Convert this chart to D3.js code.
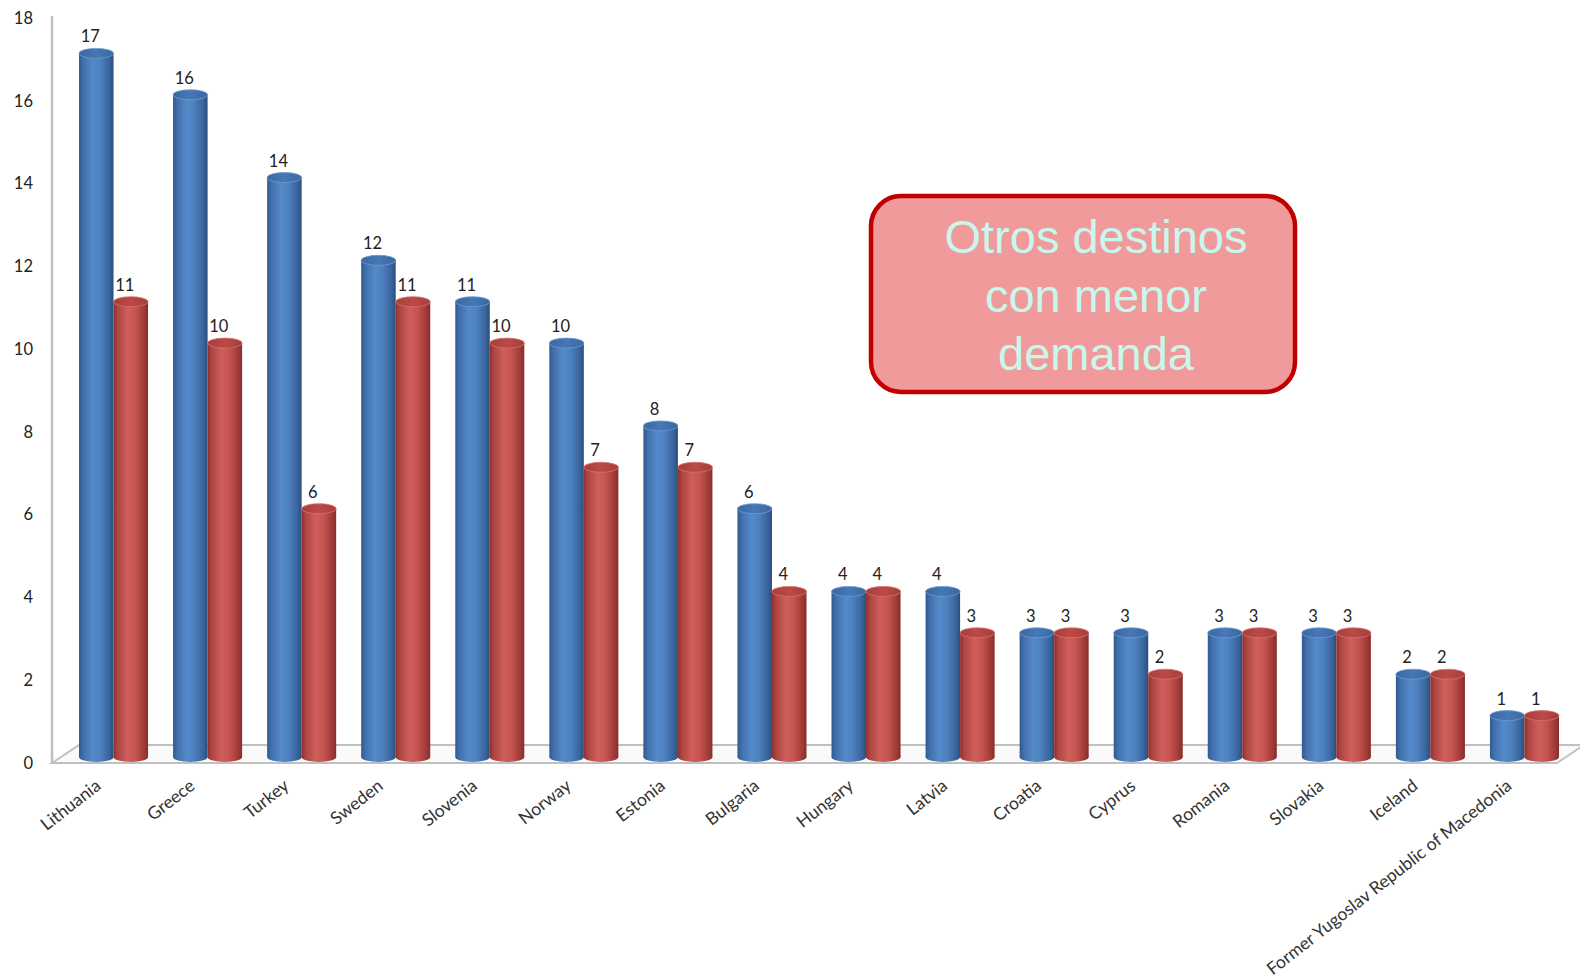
<!DOCTYPE html>
<html>
<head>
<meta charset="utf-8">
<script src="https://cdn.jsdelivr.net/npm/d3@7"></script>
<style>
  html, body { margin: 0; padding: 0; background: #fff; }
  svg { display: block; }
  .tick text { font-family: Lato, "Open Sans", sans-serif; fill: #222; }
</style>
</head>
<body>
<div id="chart"></div>
<script>
var countries = ["Lithuania", "Greece", "Turkey", "Sweden", "Slovenia", "Norway", "Estonia", "Bulgaria",
  "Hungary", "Latvia", "Croatia", "Cyprus", "Romania", "Slovakia", "Iceland", "Former Yugoslav Republic of Macedonia"];
var blueValues = [17, 16, 14, 12, 11, 10, 8, 6, 4, 4, 3, 3, 3, 3, 2, 1];
var redValues  = [11, 10, 6, 11, 10, 7, 7, 4, 4, 3, 3, 2, 3, 3, 2, 1];
var yTicks = [0, 2, 4, 6, 8, 10, 12, 14, 16, 18];
var noteLines = ["Otros destinos", "con menor", "demanda"];

function BarChart3D(append_to) {
  var that = {};
  that.width = 1580;
  that.height = 980;
  that.axisX = 52;
  that.y0 = 763;     // front plane zero
  that.depth = 6;    // bars sit back from the front plane

  that.svg = d3.select(append_to).append("svg")
    .attr("width", that.width)
    .attr("height", that.height);

  that.y = d3.scaleLinear().domain([0, 18]).range([that.y0, 18]);
  that.x = d3.scaleBand().domain(countries).range([79, 1559]).paddingInner(0.266).paddingOuter(0);
  that.xs = d3.scaleBand().domain(["blue", "red"]).range([0, that.x.bandwidth()]);

  // gradients for cylinders
  var defs = that.svg.append("defs");
  function grad(id, stops) {
    var g = defs.append("linearGradient").attr("id", id)
      .attr("x1", "0%").attr("x2", "100%").attr("y1", "0%").attr("y2", "0%");
    stops.forEach(function(s) {
      g.append("stop").attr("offset", s[0]).attr("stop-color", s[1]);
    });
  }
  grad("gBlue", [["0%", "#2f5a8e"], ["12%", "#416fab"], ["40%", "#548aca"], ["62%", "#4d80be"], ["88%", "#38649c"], ["100%", "#2b4e7a"]]);
  grad("gRed", [["0%", "#8d302d"], ["12%", "#ad4643"], ["42%", "#d05f5c"], ["64%", "#c5534f"], ["88%", "#a03b38"], ["100%", "#872d2a"]]);
  grad("gBlueTop", [["0%", "#3a67a0"], ["50%", "#4778b5"], ["100%", "#3a689f"]]);
  grad("gRedTop", [["0%", "#a83e3b"], ["50%", "#ba4a47"], ["100%", "#a63d3a"]]);

  // floor
  var fl = that.axisX, fr = 1557, fy = that.y0, by = that.y0 - 18, dx = 27;
  that.svg.append("path")
    .attr("d", "M" + fl + "," + fy + "L" + fr + "," + fy + "L" + (fr + dx) + "," + by + "L" + (fl + dx) + "," + by + "Z")
    .attr("fill", "#fafafa")
    .attr("stroke", "#c0c0c0")
    .attr("stroke-width", 2);

  // vertical axis line
  that.svg.append("line")
    .attr("x1", that.axisX).attr("x2", that.axisX)
    .attr("y1", 16).attr("y2", fy)
    .attr("stroke", "#c0c0c0").attr("stroke-width", 2.5);

  // y axis labels
  var yAxis = that.svg.append("g")
    .attr("transform", "translate(" + (that.axisX - 19) + ",0)")
    .call(d3.axisLeft(that.y).tickValues(yTicks).tickSize(0).tickPadding(0));
  yAxis.select(".domain").remove();
  yAxis.selectAll("text").style("font-size", "16.5px");

  var series = [
    {key: "blue", values: blueValues, side: "gBlue", top: "gBlueTop", rim: "#6c9bd4"},
    {key: "red", values: redValues, side: "gRed", top: "gRedTop", rim: "#d9706d"}
  ];
  var ry = 5;

  series.forEach(function(s) {
    var g = that.svg.append("g").attr("class", "series-" + s.key);
    var bars = g.selectAll("g.bar")
      .data(countries.map(function(c, i) { return {c: c, v: s.values[i]}; }))
      .enter().append("g").attr("class", "bar");
    var bw = that.xs.bandwidth();
    function cx(d) { return that.x(d.c) + that.xs(s.key) + bw / 2; }
    function top(d) { return that.y(d.v) - that.depth; }
    var base = that.y(0) - that.depth;

    bars.append("ellipse")
      .attr("cx", cx).attr("cy", base)
      .attr("rx", bw / 2).attr("ry", ry)
      .attr("fill", "url(#" + s.side + ")");
    bars.append("rect")
      .attr("x", function(d) { return cx(d) - bw / 2; })
      .attr("y", top)
      .attr("width", bw)
      .attr("height", function(d) { return base - top(d); })
      .attr("fill", "url(#" + s.side + ")");
    bars.append("ellipse")
      .attr("cx", cx).attr("cy", top)
      .attr("rx", bw / 2).attr("ry", ry)
      .attr("fill", "url(#" + s.top + ")")
      .attr("stroke", s.rim).attr("stroke-width", 0.8);
    // value labels sit a little left of the bar centre, like the 3D original
    bars.append("text")
      .attr("x", function(d) { return cx(d) - 6; })
      .attr("y", function(d) { return top(d) - 11; })
      .attr("text-anchor", "middle")
      .style("font-family", "Lato, 'Open Sans', sans-serif")
      .style("font-size", "16.5px")
      .style("fill", "#222")
      .text(function(d) { return d.v; });
  });

  // category labels
  that.svg.append("g").selectAll("text")
    .data(countries)
    .enter().append("text")
    .attr("transform", function(d) {
      return "translate(" + (that.x(d) + 23) + "," + (that.y0 + 25) + ") rotate(-38)";
    })
    .attr("text-anchor", "end")
    .style("font-family", "Lato, 'Open Sans', sans-serif")
    .style("font-size", "17.5px")
    .style("fill", "#333")
    .text(function(d) { return d; });

  // annotation box
  var note = that.svg.append("g");
  note.append("rect")
    .attr("x", 871).attr("y", 196)
    .attr("width", 424).attr("height", 196)
    .attr("rx", 30).attr("ry", 30)
    .attr("fill", "#f19a9c")
    .attr("stroke", "#c00000")
    .attr("stroke-width", 4.5);
  note.selectAll("text")
    .data(noteLines)
    .enter().append("text")
    .attr("x", 1096)
    .attr("y", function(d, i) { return 253 + i * 58.5; })
    .attr("text-anchor", "middle")
    .style("font-family", "'Liberation Sans', Arial, sans-serif")
    .style("font-size", "47px")
    .style("fill", "#c8f8ec")
    .text(function(d) { return d; });

  return that;
}

BarChart3D("#chart");
</script>
</body>
</html>
